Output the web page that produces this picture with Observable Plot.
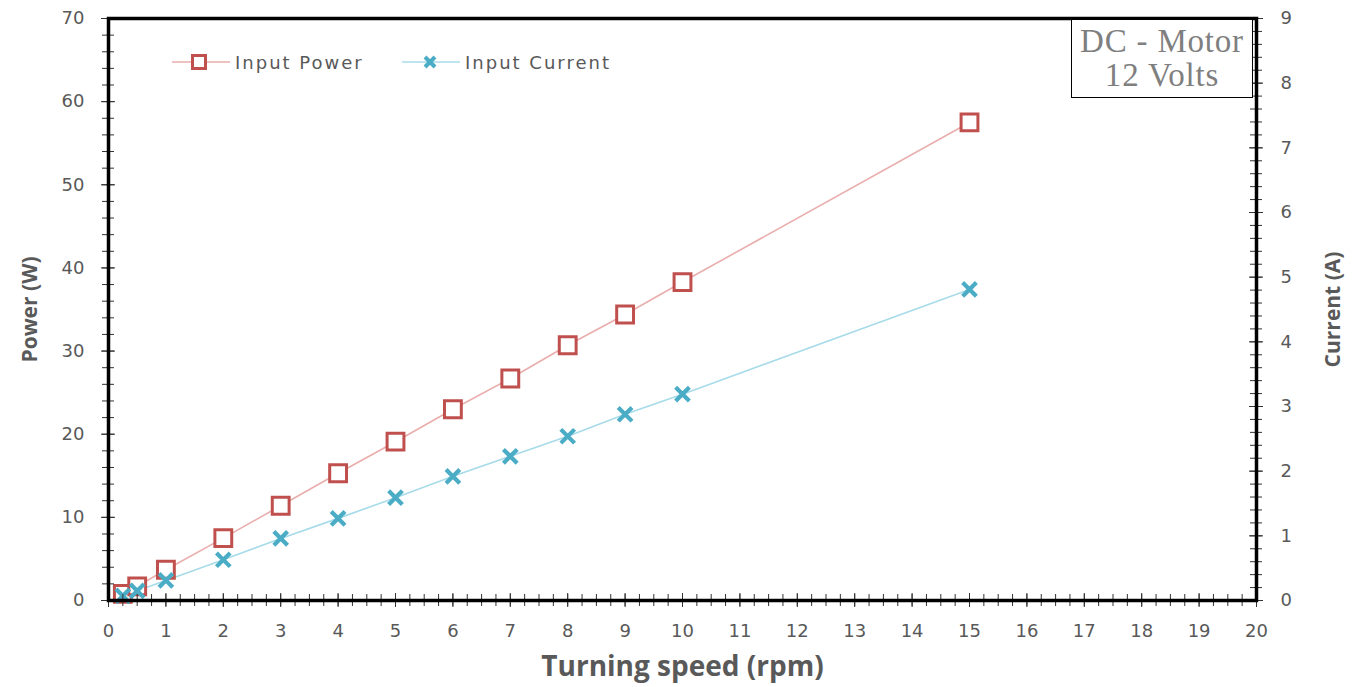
<!DOCTYPE html>
<html><head><meta charset="utf-8">
<script src="https://cdn.jsdelivr.net/npm/d3@7"></script>
<script src="https://cdn.jsdelivr.net/npm/@observablehq/plot@0.6"></script>
<style>
body{margin:0;background:#fff;}
#wrap{position:relative;width:1365px;height:687px;}
#note{position:absolute;left:1071px;top:19px;width:182px;height:79px;border:1.5px solid #000;box-sizing:border-box;font-family:"Liberation Serif",serif;font-size:33px;letter-spacing:0.8px;color:#7f7f7f;text-align:center;line-height:34px;padding-top:4px;background:#fff;white-space:nowrap;}
.leg{position:absolute;top:50px;display:flex;align-items:center;font-family:"DejaVu Sans",sans-serif;font-size:18px;letter-spacing:2px;color:#595959;}
.leg svg{margin-right:5px;}
</style></head><body><div id="wrap"></div>
<script>
// Data
const speed   = [0.25, 0.5, 1, 2, 3, 4, 5, 6, 7, 8, 9, 10, 15];
const power   = [0.8, 1.7, 3.7, 7.5, 11.4, 15.3, 19.1, 23.0, 26.7, 30.7, 34.4, 38.3, 57.5];
const current = [0.07, 0.15, 0.31, 0.63, 0.96, 1.27, 1.59, 1.92, 2.23, 2.54, 2.88, 3.19, 4.81];
const xTicks = d3.range(0, 21, 1);
const xMinor = d3.range(0, 20.01, 0.25);
const powerTicks = d3.range(0, 71, 10);
const powerMinor = d3.range(0, 71, 2);
const currentTicks = d3.range(0, 10, 1);
const currentMinor = d3.range(0, 9.01, 0.2);
const seriesNames = ["Input Power", "Input Current"];
const noteLines = ["DC - Motor", "12 Volts"];

const W = 1365, H = 687, mL = 108, mR = 109, mT = 18, mB = 87;
const k = 70 / 9; // current -> power axis units
const pxPerY = (H - mT - mB) / 70;
const pxPerX = (W - mL - mR) / 20;
const rows = speed.map((s, i) => ({speed: s, power: power[i], current: current[i] * k}));
const red = "#c0504d", blue = "#4bacc6", grey = "#595959";

const tl = 6, tlMaj = 7; // tick half-length px
const plot = Plot.plot({
  width: W, height: H, marginLeft: mL, marginRight: mR, marginTop: mT, marginBottom: mB,
  style: {fontFamily: "DejaVu Sans", fontSize: "18px", color: grey, background: "white"},
  x: {domain: [0, 20]},
  y: {domain: [0, 70]},
  marks: [
    Plot.line(rows, {x: "speed", y: "power", stroke: "#e9aeac", strokeWidth: 1.6}),
    Plot.line(rows, {x: "speed", y: "current", stroke: "#a8dbe9", strokeWidth: 1.6}),
    Plot.dot(rows, {x: "speed", y: "power", symbol: "square", r: 9.5, stroke: red, fill: "white", strokeWidth: 3}),
    Plot.dot(rows, {x: "speed", y: "current", symbol: "times", r: 6.3, stroke: blue, strokeWidth: 4.2}),
    // crossing tick marks
    Plot.ruleX(xMinor, {y1: -tl / pxPerY, y2: tl / pxPerY, stroke: "#333", strokeWidth: 1}),
    Plot.ruleX(xTicks, {y1: -tlMaj / pxPerY, y2: tlMaj / pxPerY, stroke: "#333", strokeWidth: 1}),
    Plot.ruleY(powerMinor, {x1: -tl / pxPerX, x2: tl / pxPerX, stroke: "#333", strokeWidth: 1}),
    Plot.ruleY(powerTicks, {x1: -tlMaj / pxPerX, x2: tlMaj / pxPerX, stroke: "#333", strokeWidth: 1}),
    Plot.ruleY(currentMinor.map(c => c * k), {x1: 20 - tl / pxPerX, x2: 20 + tl / pxPerX, stroke: "#333", strokeWidth: 1}),
    Plot.ruleY(currentTicks.map(c => c * k), {x1: 20 - tlMaj / pxPerX, x2: 20 + tlMaj / pxPerX, stroke: "#333", strokeWidth: 1}),
    Plot.frame({stroke: "black", strokeWidth: 3.5}),
    Plot.axisX(xTicks, {tickSize: 0, tickPadding: 24, label: null, fill: grey}),
    Plot.axisY(powerTicks, {anchor: "left", tickSize: 0, tickPadding: 24, label: null, fill: grey}),
    Plot.axisY(currentTicks.map(c => c * k), {anchor: "right", tickSize: 0, tickPadding: 24, label: null, fill: grey, tickFormat: d => Math.round(d / k)}),
    Plot.text(["Turning speed (rpm)"], {frameAnchor: "bottom", dy: 75, textAnchor: "middle", fontFamily: "Open Sans", fontWeight: "bold", fontSize: 28, fill: grey}),
    Plot.text(["Power (W)"], {frameAnchor: "left", dx: -78, rotate: -90, textAnchor: "middle", fontFamily: "Open Sans", fontWeight: "bold", fontSize: 21, fill: grey}),
    Plot.text(["Current (A)"], {frameAnchor: "right", dx: 77, rotate: -90, textAnchor: "middle", fontFamily: "Open Sans", fontWeight: "bold", fontSize: 21, fill: grey})
  ]
});
const wrap = document.getElementById("wrap");
wrap.appendChild(plot);

// note box
const note = document.createElement("div");
note.id = "note";
note.innerHTML = noteLines.join("<br>");
wrap.appendChild(note);

// legend
function legItem(left, name, sym) {
  const d = document.createElement("div");
  d.className = "leg";
  d.style.left = left + "px";
  d.innerHTML = sym + `<span>${name}</span>`;
  wrap.appendChild(d);
}
legItem(172, seriesNames[0],
  `<svg width="58" height="24"><line x1="0" y1="12" x2="58" y2="12" stroke="#e9aeac" stroke-width="1.6"/><rect x="20.5" y="5.5" width="13" height="13" fill="white" stroke="${red}" stroke-width="3"/></svg>`);
legItem(402, seriesNames[1],
  `<svg width="58" height="24"><line x1="0" y1="12" x2="58" y2="12" stroke="#a8dbe9" stroke-width="1.6"/><path d="M23,7L33,17M33,7L23,17" stroke="${blue}" stroke-width="4"/></svg>`);
</script>
</body></html>
